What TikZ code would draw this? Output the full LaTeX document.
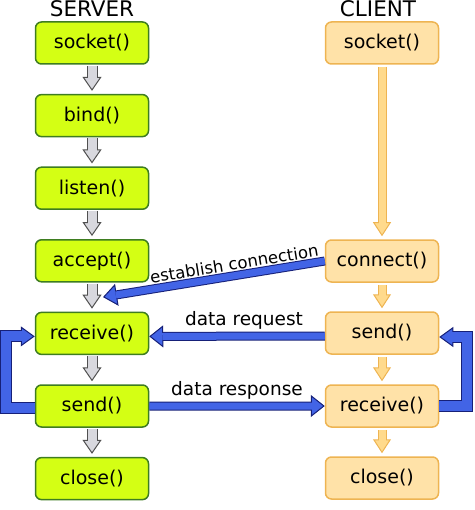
\documentclass[tikz,border=0pt]{standalone}
\usepackage{fontspec}
\setmainfont{DejaVu Sans}
\usepackage{xcolor}
\usepackage{tikz}
\usetikzlibrary{arrows.meta,calc}

\definecolor{srvfill}{RGB}{212,255,20}
\definecolor{srvline}{RGB}{62,125,32}
\definecolor{clifill}{RGB}{255,226,168}
\definecolor{cliline}{RGB}{238,180,82}
\definecolor{grayfill}{RGB}{216,216,222}
\definecolor{grayline}{RGB}{80,80,80}
\definecolor{orfill}{RGB}{255,218,140}
\definecolor{blufill}{RGB}{66,100,230}
\definecolor{bluline}{RGB}{22,32,120}

\begin{document}
\begin{tikzpicture}[x=1pt, y=-1pt,
  box/.style={rectangle, rounded corners=6pt, line width=1.5pt, minimum width=113pt, minimum height=42pt, font=\fontsize{19}{22}\selectfont},
  srvbox/.style={box, draw=srvline, fill=srvfill},
  clibox/.style={box, draw=cliline, fill=clifill},
  blk/.style n args={5}{draw=#2, line width=#3, -{Triangle[width=#5, length=14pt, line width=1pt, fill=#1]}, postaction={draw=#1, line width=#4, arrows=-, shorten >=13pt}},
  grayarrow/.style={blk={grayfill}{grayline}{11pt}{9pt}{19pt}, shorten <=1pt, shorten >=3pt},
  orarrow/.style={blk={orfill}{cliline}{9pt}{7pt}{18pt}, shorten <=2pt, shorten >=3pt},
  bluearrow/.style={blk={blufill}{bluline}{9pt}{7pt}{22pt}},
  loop/.style={blk={blufill}{bluline}{12pt}{10pt}{20pt}},
  lbl/.style={font=\fontsize{18.5}{22}\selectfont, inner sep=2pt}]

\useasboundingbox (0,0) rectangle (474,510);

\node[anchor=base, font=\fontsize{21.5}{26}\selectfont] (srvtitle) at (92,16.5) {SERVER};
\node[anchor=base, font=\fontsize{21.5}{26}\selectfont] (clititle) at (378,16.5) {CLIENT};

% server side
\foreach \n/\t [count=\i] in {socket/socket(), bind/bind(), listen/listen(), accept/accept(), receive/receive(), send/send(), close/close()}
{
	\node[srvbox] (s\n) at (92,{43+72.6*(\i-1)}) {\t};
}

% client side
\node[clibox] (csocket) at (382,43) {socket()};
\node[clibox] (cconnect) at (382,261) {connect()};
\node[clibox] (csend) at (382,333) {send()};
\node[clibox] (creceive) at (382,406) {receive()};
\node[clibox] (cclose) at (382,478) {close()};

\foreach \a/\b in {socket/bind, bind/listen, listen/accept, accept/receive, receive/send, send/close}
{
	\draw[grayarrow] (s\a) -- (s\b);
}

\draw[orarrow] (csocket) -- (cconnect);
\draw[orarrow] (cconnect) -- (csend);
\draw[orarrow] (csend) -- (creceive);
\draw[orarrow] (creceive) -- (cclose);

% messages
\coordinate (est) at ($(saccept.south)!0.5!(sreceive.north)+(11,0)$);
\draw[bluearrow] (cconnect.west) -- node[sloped, above, pos=0.4, font=\fontsize{16.5}{20}\selectfont, inner sep=1pt] (lest) {establish connection} (est);
\draw[bluearrow] ([yshift=-3pt]csend.west) -- node[lbl, above, pos=0.46] (lreq) {data request} ([yshift=-3pt]sreceive.east);
\draw[bluearrow] (ssend.east) -- node[lbl, above] (lresp) {data response} (creceive.west);

% loops
\draw[loop] ([yshift=-2pt]ssend.west) -- ++(-28.5,0) |- ([yshift=-3pt]sreceive.west);
\draw[loop] (creceive.east) -- ++(27.5,0) |- ([yshift=-4pt]csend.east);

\end{tikzpicture}
\end{document}
